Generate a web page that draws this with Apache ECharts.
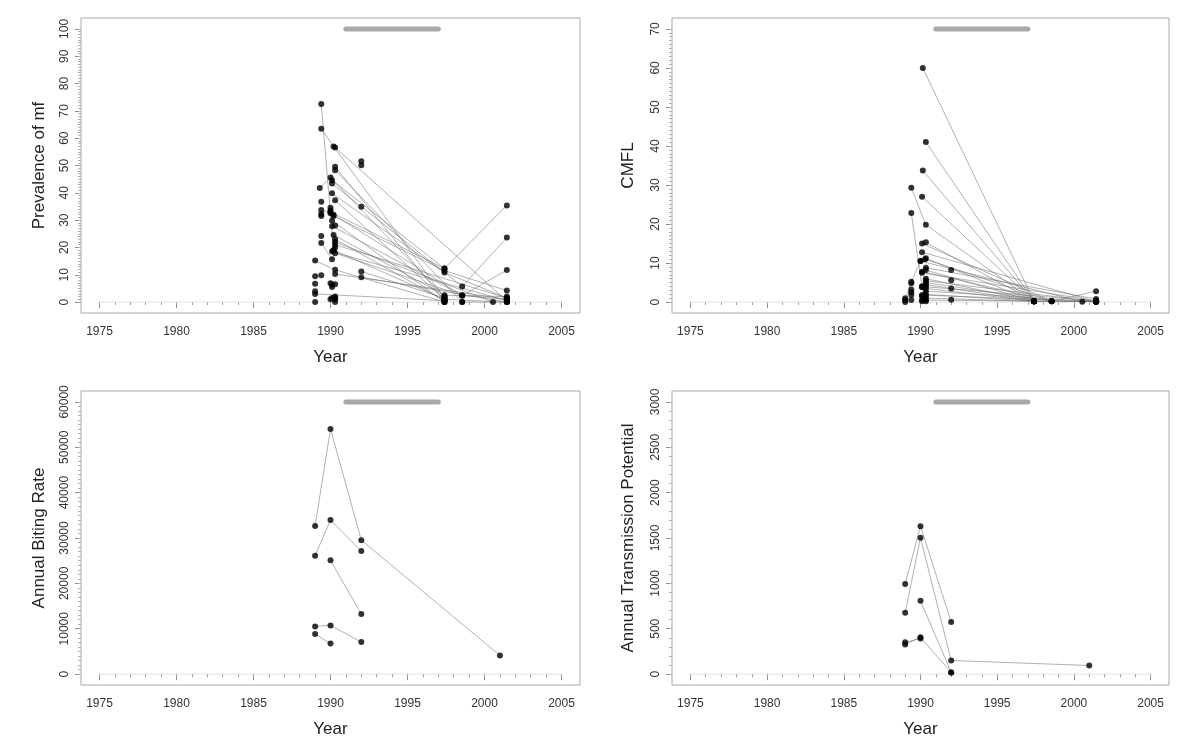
<!DOCTYPE html>
<html>
<head>
<meta charset="utf-8">
<script src="https://cdn.jsdelivr.net/npm/echarts@6/dist/echarts.min.js"></script>
<style>html,body{margin:0;padding:0;background:#fff}#c{width:1200px;height:756px}</style>
</head>
<body>
<div id="c"></div>
<script>
// ---------- tick labels ----------
const yearTicks = [1975, 1980, 1985, 1990, 1995, 2000, 2005];
const mfTicks = [0, 10, 20, 30, 40, 50, 60, 70, 80, 90, 100];
const cmflTicks = [0, 10, 20, 30, 40, 50, 60, 70];
const abrTicks = [0, 10000, 20000, 30000, 40000, 50000, 60000];
const atpTicks = [0, 500, 1000, 1500, 2000, 2500, 3000];
const treatmentPeriod = [1991, 1997];

// ---------- Prevalence of mf: connected site series ----------
const mfLines = [
  [[1989.4, 72.5], [1990.2, 19.0]],
  [[1989.4, 63.5], [1990.2, 57.0], [1997.4, 1.5]],
  [[1990.3, 56.6], [2001.45, 0.5]],
  [[1990.3, 49.5], [1997.4, 0.5]],
  [[1990.3, 48.3], [1998.55, 0], [2001.45, 0]],
  [[1989.3, 41.8], [1990.0, 45.6], [1997.4, 2.0]],
  [[1990.1, 44.6], [1997.4, 12.3], [2001.45, 35.4]],
  [[1990.1, 43.4], [1998.55, 5.7], [2001.45, 23.6]],
  [[1990.1, 39.8], [1997.4, 10.8], [2001.45, 1.5]],
  [[1990.3, 37.3], [1997.4, 1.0]],
  [[1990.0, 33.0], [1997.4, 12.3]],
  [[1990.2, 32.0], [1998.55, 2.4], [2001.45, 11.7]],
  [[1990.2, 31.5], [1997.4, 11.5], [2001.45, 4.2]],
  [[1990.1, 29.8], [1997.4, 0]],
  [[1990.1, 27.8], [1998.55, 2.4], [2001.45, 1.0]],
  [[1990.2, 24.6], [1997.4, 2.5], [2001.45, 2.0]],
  [[1990.3, 23.0], [1997.4, 0.5]],
  [[1990.3, 22.0], [2000.55, 0]],
  [[1990.3, 21.0], [2001.45, 1.5]],
  [[1990.2, 19.0], [1997.4, 1.0], [2001.45, 0]],
  [[1990.3, 17.9], [1998.55, 2.4]],
  [[1990.1, 18.5], [2001.45, 0.5]],
  [[1989.0, 15.2], [1990.3, 11.8], [1997.4, 0]],
  [[1990.3, 10.3], [2001.45, 1.0]],
  [[1992.0, 11.2], [1997.4, 1.5]],
  [[1992.0, 9.1], [2001.45, 0]],
  [[1989.0, 3.0], [1997.4, 0.5]],
  [[1989.4, 33.7], [1990.0, 32.5]],
  [[1989.4, 21.6], [1990.1, 15.7]]
];
// unconnected mf observations
const mfPoints = [
  [1989.0, 9.5], [1989.0, 6.7], [1989.0, 4.0], [1989.0, 0],
  [1989.4, 36.7], [1989.4, 32.2], [1989.4, 31.5], [1989.4, 24.2], [1989.4, 9.8],
  [1990.0, 34.5], [1990.0, 33.5], [1990.0, 6.9], [1990.1, 6.3], [1990.1, 5.5], [1990.1, 1.5], [1990.0, 1.0],
  [1990.3, 28.0], [1990.3, 20.0], [1990.3, 6.5], [1990.3, 2.0], [1990.3, 1.5], [1990.3, 1.0], [1990.3, 0],
  [1992.0, 51.6], [1992.0, 50.1], [1992.0, 34.9],
  [1997.4, 2.0], [1997.4, 0], [1998.55, 0]
];

// ---------- CMFL ----------
const cmflLines = [
  [[1990.15, 60.0], [1997.4, 0.2]],
  [[1990.35, 41.0], [1997.4, 0.2]],
  [[1990.15, 33.7], [1997.4, 0.2]],
  [[1990.1, 27.0], [1997.4, 0.2], [2001.45, 0.1]],
  [[1989.4, 29.3], [1990.35, 19.8], [1997.4, 0.2]],
  [[1990.35, 15.3], [1997.4, 0.2], [2001.45, 0.3]],
  [[1990.1, 15.0], [1998.55, 0.2]],
  [[1990.1, 12.8], [2001.45, 0.1]],
  [[1990.35, 11.2], [1997.4, 0.2]],
  [[1990.3, 11.0], [1998.55, 0.2], [2001.45, 2.8]],
  [[1990.0, 10.5], [2000.55, 0.1]],
  [[1990.35, 8.8], [2001.45, 0.8]],
  [[1990.35, 8.2], [1997.4, 0.2]],
  [[1990.1, 7.8], [1998.55, 0.2]],
  [[1990.1, 7.5], [2001.45, 0.3]],
  [[1990.35, 6.0], [1997.4, 0.2]],
  [[1990.35, 5.5], [2001.45, 0.1]],
  [[1990.35, 5.0], [1998.55, 0.2]],
  [[1990.35, 4.5], [1997.4, 0.2]],
  [[1990.1, 4.0], [2001.45, 0.3]],
  [[1990.35, 3.5], [1997.4, 0.2]],
  [[1990.35, 2.8], [2001.45, 0.1]],
  [[1990.35, 2.0], [1997.4, 0.2]],
  [[1990.1, 1.8], [2001.45, 0.1]],
  [[1990.35, 1.0], [1997.4, 0.2]],
  [[1990.35, 0.5], [2001.45, 0.1]],
  [[1989.4, 22.8], [1990.1, 4.0]],
  [[1989.0, 0.5], [1989.4, 5.2], [1990.0, 10.5]]
];
const cmflPoints = [
  [1989.0, 0], [1989.0, 1.0],
  [1989.4, 4.8], [1989.4, 3.2], [1989.4, 2.5], [1989.4, 1.8], [1989.4, 0.5],
  [1990.1, 3.8], [1990.1, 1.5], [1990.1, 0.5], [1990.1, 0.2],
  [1990.35, 4.0], [1990.35, 1.5], [1990.35, 0.2],
  [1992.0, 8.2], [1992.0, 5.6], [1992.0, 3.5], [1992.0, 0.6]
];

// ---------- Annual Biting Rate ----------
const abrLines = [
  [[1989, 32660], [1990, 54000], [1992, 29530], [2001, 4100]],
  [[1989, 26090], [1990, 33980], [1992, 27120]],
  [[1990, 25070], [1992, 13240]],
  [[1989, 10520], [1990, 10740], [1992, 7100]],
  [[1989, 8850], [1990, 6730]]
];
const abrPoints = [];

// ---------- Annual Transmission Potential ----------
const atpLines = [
  [[1989, 994], [1990, 1630], [1992, 574]],
  [[1989, 676], [1990, 1502], [1992, 150], [2001, 95]],
  [[1990, 808], [1992, 19]],
  [[1989, 326], [1990, 406], [1992, 19]],
  [[1989, 351], [1990, 392]]
];
const atpPoints = [];

// ---------- build ----------
function range(a, b, s) { const r = []; for (let v = a; v <= b + 1e-9; v += s) r.push(v); return r; }
const FONT = '"Liberation Sans", Arial, sans-serif';
const panels = [
  { left: 81, top: 18, width: 499, height: 295, yMin: -4, yMax: 104, ticks: mfTicks, minor: range(0, 100, 1), name: 'Prevalence of mf', gap: 33, lines: mfLines, pts: mfPoints },
  { left: 672, top: 18, width: 497, height: 295, yMin: -2.8, yMax: 72.8, ticks: cmflTicks, minor: range(0, 70, 1), name: 'CMFL', gap: 35, lines: cmflLines, pts: cmflPoints },
  { left: 81, top: 391, width: 499, height: 294, yMin: -2400, yMax: 62400, ticks: abrTicks, minor: range(0, 60000, 1000), name: 'Annual Biting Rate', gap: 33, lines: abrLines, pts: abrPoints },
  { left: 672, top: 391, width: 497, height: 294, yMin: -120, yMax: 3120, ticks: atpTicks, minor: range(0, 3000, 100), name: 'Annual Transmission Potential', gap: 35, lines: atpLines, pts: atpPoints }
];
const xMin = 1973.8, xMax = 2006.2;
const grid = [], xAxis = [], yAxis = [], series = [];
panels.forEach((p, i) => {
  grid.push({ left: p.left, top: p.top, width: p.width, height: p.height, show: true, borderColor: '#a8a8a8', borderWidth: 1, backgroundColor: 'transparent' });
  const yTop = p.ticks[p.ticks.length - 1];
  xAxis.push({
    type: 'value', gridIndex: i, min: xMin, max: xMax, position: 'bottom',
    axisLine: { show: false }, splitLine: { show: false },
    axisTick: { show: true, customValues: yearTicks, length: 6, lineStyle: { color: '#8c8c8c' } },
    axisLabel: { customValues: yearTicks, margin: 13, color: '#333', fontSize: 12, fontFamily: FONT, formatter: v => String(v) },
    name: 'Year', nameLocation: 'middle', nameGap: 36, nameTextStyle: { fontSize: 17, color: '#222', fontFamily: FONT }
  });
  xAxis.push({
    type: 'value', gridIndex: i, min: xMin, max: xMax, position: 'bottom',
    axisLine: { show: false }, splitLine: { show: false }, axisLabel: { show: false },
    axisTick: { show: true, customValues: range(1975, 2005, 1), length: 3, lineStyle: { color: '#a0a0a0' } }
  });
  yAxis.push({
    type: 'value', gridIndex: i, min: p.yMin, max: p.yMax, position: 'left',
    axisLine: { show: false }, splitLine: { show: false },
    axisTick: { show: true, customValues: p.ticks, length: 6, lineStyle: { color: '#8c8c8c' } },
    axisLabel: { customValues: p.ticks, rotate: 90, margin: 10, color: '#333', fontSize: 12, fontFamily: FONT, formatter: v => String(v) },
    name: p.name, nameLocation: 'middle', nameGap: p.gap, nameRotate: 90, nameTextStyle: { fontSize: 17, color: '#222', fontFamily: FONT }
  });
  yAxis.push({
    type: 'value', gridIndex: i, min: p.yMin, max: p.yMax, position: 'left',
    axisLine: { show: false }, splitLine: { show: false }, axisLabel: { show: false },
    axisTick: { show: true, customValues: p.minor, length: 3, lineStyle: { color: '#b0b0b0' } }
  });
  const xi = 2 * i, yi = 2 * i;
  // dotted zero reference line
  series.push({ type: 'line', xAxisIndex: xi, yAxisIndex: yi, data: [[yearTicks[0], 0], [yearTicks[yearTicks.length - 1], 0]], symbol: 'none', silent: true, z: 1,
    lineStyle: { color: '#c4c4c4', width: 1, type: [1, 1] } });
  // treatment period bar
  series.push({ type: 'line', xAxisIndex: xi, yAxisIndex: yi, data: [[treatmentPeriod[0], yTop], [treatmentPeriod[1], yTop]], symbol: 'none', silent: true, z: 2,
    lineStyle: { color: '#a9a9a9', width: 5, cap: 'round' } });
  p.lines.forEach(l => {
    series.push({ type: 'line', xAxisIndex: xi, yAxisIndex: yi, data: l, symbol: 'none', silent: true, z: 3,
      lineStyle: { color: 'rgba(110,110,110,0.6)', width: 0.9 } });
  });
  const all = [];
  p.lines.forEach(l => l.forEach(pt => all.push(pt)));
  p.pts.forEach(pt => all.push(pt));
  series.push({ type: 'scatter', xAxisIndex: xi, yAxisIndex: yi, data: all, symbol: 'circle', symbolSize: 6, silent: true, z: 5,
    itemStyle: { color: '#000' } });
});
const chart = echarts.init(document.getElementById('c'), null, { renderer: 'canvas' });
chart.setOption({ backgroundColor: '#fff', animation: false, grid, xAxis, yAxis, series });
</script>
</body>
</html>
